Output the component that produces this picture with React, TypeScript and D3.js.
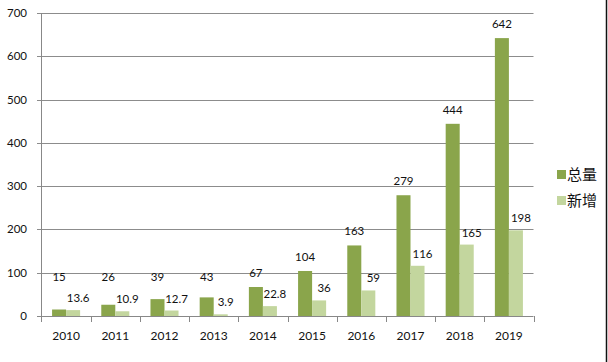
import React from "react";
import { scaleBand, scaleLinear } from "d3";

// chart data
const years = ["2010", "2011", "2012", "2013", "2014", "2015", "2016", "2017", "2018", "2019"];
const totalValues = [15, 26, 39, 43, 67, 104, 163, 279, 444, 642];
const newValues = [13.6, 10.9, 12.7, 3.9, 22.8, 36, 59, 116, 165, 198];
const seriesNames = ["总量", "新增"];
const yTicks = [0, 100, 200, 300, 400, 500, 600, 700];

const colors = ["#8aa54b", "#c3d69e"];
const font = "Lato, 'Open Sans', sans-serif";

function App() {
  const width = 608;
  const height = 362;
  const left = 41.5;
  const right = 533.5;

  const xScale = scaleBand()
    .domain(years)
    .range([left, right])
    .paddingInner(0.43)
    .paddingOuter(0.215);
  const inner = scaleBand().domain(seriesNames).range([0, xScale.bandwidth()]);
  const yScale = scaleLinear().domain([0, 700]).range([316, 13]);

  const step = xScale.step();
  const boundaries = years.map(y => xScale(y) - (step * 0.43) / 2).concat([right]);

  const series = [totalValues, newValues];

  return (
    <div style={{ position: "fixed", left: 0, top: 0 }}>
      <svg width={width} height={height} style={{ display: "block", background: "#fff" }}>
        {/* gridlines and y axis */}
        {yTicks.map(t => (
          <g key={t}>
            <line x1={37} x2={right} y1={Math.round(yScale(t)) + 0.5} y2={Math.round(yScale(t)) + 0.5}
              stroke={t === 0 ? "#888" : "#8c8c8c"} strokeWidth={1} />
            <text x={27} y={yScale(t)} dy="0.35em" textAnchor="end" fontFamily={font} fontSize={11.5} fill="#111">
              {t}
            </text>
          </g>
        ))}
        <line x1={left} x2={left} y1={yScale(700)} y2={321} stroke="#888" />
        {boundaries.map((b, i) => (
          <line key={i} x1={Math.round(b) + 0.5} x2={Math.round(b) + 0.5} y1={316} y2={322} stroke="#888" />
        ))}

        {/* bars */}
        {series.map((vals, si) => (
          <g key={si} fill={colors[si]}>
            {vals.map((v, i) => (
              <rect key={i}
                x={xScale(years[i]) + inner(seriesNames[si])}
                y={yScale(v)}
                width={inner.bandwidth()}
                height={yScale(0) - yScale(v)} />
            ))}
          </g>
        ))}

        {/* value labels */}
        {totalValues.map((v, i) => (
          <text key={"t" + i}
            x={xScale(years[i]) + inner(seriesNames[0]) + inner.bandwidth() / 2}
            y={Math.min(yScale(v) - 14, yScale(90))}
            dy="0.35em" textAnchor="middle" fontFamily={font} fontSize={11.5} fill="#111">
            {v}
          </text>
        ))}
        {newValues.map((v, i) => (
          <text key={"n" + i}
            x={xScale(years[i]) + inner(seriesNames[1]) + inner.bandwidth() / 2 + 5}
            y={Math.min(yScale(v) - 12, 302)}
            dy="0.35em" textAnchor="middle" fontFamily={font} fontSize={11.5} fill="#111">
            {v}
          </text>
        ))}

        {/* x labels */}
        {years.map(y => (
          <text key={y} x={xScale(y) + xScale.bandwidth() / 2} y={336} dy="0.35em" textAnchor="middle"
            fontFamily={font} fontSize={12} fill="#111">
            {y}
          </text>
        ))}

        {/* legend */}
        {seriesNames.map((name, i) => (
          <g key={name} transform={`translate(557, ${170 + i * 26})`}>
            <rect width={9} height={9} fill={colors[i]} />
            <text x={10} y={4.5} dy="0.38em" fontFamily="'Noto Sans CJK SC', sans-serif" fontSize={15} fill="#111">
              {name}
            </text>
          </g>
        ))}

        {/* right border */}
        <line x1={606.5} x2={606.5} y1={0} y2={height} stroke="#111" strokeWidth={1.5} />
      </svg>
    </div>
  );
}

export default App;
